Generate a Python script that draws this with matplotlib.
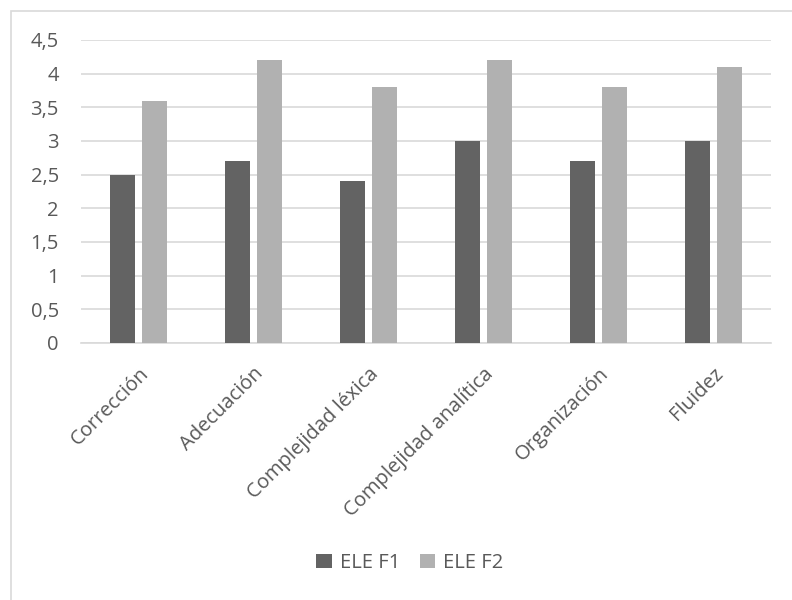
import numpy as np
import matplotlib.pyplot as plt
from matplotlib.patches import Rectangle
from matplotlib.ticker import FuncFormatter

categorias = ['Corrección', 'Adecuación', 'Complejidad léxica',
              'Complejidad analítica', 'Organización', 'Fluidez']
ele_f1 = [2.5, 2.7, 2.4, 3.0, 2.7, 3.0]
ele_f2 = [3.6, 4.2, 3.8, 4.2, 3.8, 4.1]

plt.rcParams['font.family'] = ['Open Sans', 'DejaVu Sans']
txt = '#595959'

fig = plt.figure(figsize=(7.92, 6), dpi=100)
ax = fig.add_axes([81/792, 1 - 343/600, 690/792, 303/600])

# marco del grafico
fig.patches.append(Rectangle((11/792, -0.1), 1.2, 1 - 11/600 + 0.1,
                             transform=fig.transFigure, fill=False,
                             edgecolor='#D9D9D9', linewidth=1.2))

x = np.arange(len(categorias))
w = 0.217
ax.bar(x - 0.143, ele_f1, w, color='#636363', label='ELE F1', zorder=3)
ax.bar(x + 0.143, ele_f2, w, color='#B1B1B1', label='ELE F2', zorder=3)

ax.set_xlim(-0.5, len(categorias) - 0.5)
ax.set_ylim(0, 4.5)
ax.set_yticks(np.arange(0, 4.51, 0.5))
ax.yaxis.set_major_formatter(FuncFormatter(lambda v, p: f'{v:g}'.replace('.', ',')))
ax.grid(axis='y', color='#D9D9D9', linewidth=1.2, zorder=0)
for s in ['top', 'right', 'left']:
    ax.spines[s].set_visible(False)
ax.spines['bottom'].set_color('#D9D9D9')
ax.spines['bottom'].set_linewidth(1.2)
ax.tick_params(length=0, labelsize=14.5, colors=txt)
ax.tick_params(axis='y', pad=16)
ax.set_xticks(x)
ax.set_xticklabels(categorias, rotation=45, ha='right', rotation_mode='anchor')
ax.tick_params(axis='x', pad=15)

fig.legend(loc='center', bbox_to_anchor=(410/792, 1 - 563/600), ncol=2, frameon=False,
           fontsize=14.5, labelcolor=txt, handlelength=0.75, handleheight=0.75,
           handletextpad=0.4, columnspacing=1.0)

fig.savefig('out.png', dpi=100)
